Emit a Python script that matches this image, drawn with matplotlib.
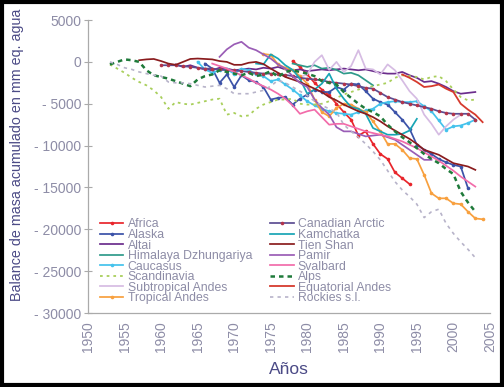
import numpy as np
import matplotlib
matplotlib.use("Agg")
import matplotlib.pyplot as plt
from matplotlib.patches import Rectangle

plt.rcParams['font.family'] = ['Liberation Sans', 'DejaVu Sans']

# ---------------- data (start year + cumulative balance, mm w.e.) ----------------
africa_start = 1978
africa = [100, -600, -1500, -2500, -3300, -4000, -5000, -6000, -6900, -8800, -8300,
          -9800, -11000, -11600, -13200, -13900, -14600]

alaska_start = 1966
alaska = [-200, -800, -2500, -1500, -3000, -1600, -2200, -2400, -3000, -4500, -4300,
          -4200, -5100, -4400, -3900, -3300, -3600, -3600, -3000, -3300, -2600, -2700,
          -3500, -4400, -4800, -5100, -6000, -6900, -8000, -9900, -10500, -11000,
          -11600, -12000, -12300, -12500, -15100]

altai_start = 1962
altai = [-300, -600, -400, -700, -900, -1000, -700, -800, -1000, -900, -800, -900,
         -700, -800, -600, -900, -1000, -900, -1100, -1000, -900, -1000, -900, -800,
         -900, -1000, -900, -1100, -1300, -1400, -1400, -1200, -1600, -1900, -2400,
         -2300, -2600, -3000, -3500, -3800, -3700, -3600]

himalaya_start = 1978
himalaya = [-200, -400, -600, -400, -800, -700, -950, -1400, -1300, -1600, -2200, -2800]

caucasus_start = 1965
caucasus = [0, -900, -1300, -1000, -900, -1400, -800, -1000, -1500, -1700,
            -2300, -2100, -2700, -3300, -4000, -4700, -5200, -5600, -5900, -6100,
            -6200, -6300, -6000, -5800, -5600, -5000, -4800, -4700, -4800, -4800,
            -4700, -5300, -5900, -7000, -8100, -7700, -7600, -7300, -6900]

scandinavia_start = 1953
scandinavia = [-300, -800, -1300, -1900, -2400, -2800, -3400, -4200, -5600, -4800,
               -5000, -5100, -4900, -4700, -4500, -4400, -6300, -6100, -6500, -6400,
               -5600, -5100, -4800, -4500, -4500, -4400, -5000, -5100, -5100, -5000,
               -4700, -4300, -3900, -3600, -3300, -3100, -2900, -2700, -2500, -1900,
               -1600, -1700, -1800, -2100, -1800, -1700, -2300, -3300, -4200, -4600,
               -4500]

subtrop_start = 1979
subtropical_andes = [-1800, -1500, 0, 800, -950, 0, -1200, -500, 1400, -800, -900,
                     -1500, -300, -1000, -2200, -3500, -4400, -6300, -7400, -8700,
                     -7700, -6900, -6300]

trop_start = 1974
tropical_andes = [950, 830, -300, -700, -950, -1700, -2600, -4500, -6000, -6500, -5500,
                  -5000, -5100, -5600, -6000, -7100, -8300, -9800, -9800, -10500,
                  -11500, -11600, -13500, -15700, -16300, -16300, -16900, -17000,
                  -17900, -18700, -18800]

canarctic_start = 1960
canadian_arctic = [-400, -400, -400, -500, -600, -700, -800, -800, -900, -1000,
                   -1000, -1100, -1200, -1300, -1400, -1400, -1500, -1550, -1700, -1900,
                   -2000, -2100, -2200, -2400, -2500, -2600, -2700, -2900, -3100, -3200,
                   -3700, -4200, -4500, -4800, -5000, -5200, -5400, -5600, -5900, -6100,
                   -6200, -6200, -6200, -6900]

kamchatka_start = 1973
kamchatka = [-200, -300, 900, 400, -400, -950, -2000, -3800, -3300, -2600, -1400,
             -3200, -4400, -5400, -5600, -6200, -7900, -8300, -8700, -8700, -8600,
             -8200, -6800]

tienshan_start = 1957
tien_shan = [200, 300, 350, 100, -200, -350, 0, 350, 400, 350,
             300, 100, 0, -350, -350, -100, 0, -250, -800, -1300,
             -1800, -2100, -2400, -2800, -3200, -3600, -4200, -4600, -5100, -5500,
             -5900, -6200, -6600, -7100, -7700, -8200, -8700, -9200, -9800, -10500,
             -10800, -11100, -11600, -12100, -12300, -12500, -12900]

pamir_start = 1968
pamir = [600, 1500, 2100, 2400, 1700, 1400, 900, 400, -300, -800, -1700, -2500,
         -3000, -4500, -5500, -6300, -7800, -8300, -8300, -8600, -8900, -8800,
         -8700, -9000, -9300, -9900, -10500, -11100, -11700, -11700]

svalbard_start = 1967
svalbard = [-200, -500, -800, -1200, -1600, -2000, -2500, -2900, -3300, -3800,
            -4400, -5200, -6200, -5900, -5700, -6600, -7500, -7400, -7400, -7700,
            -8000, -8300, -8500, -8700, -8900, -9200, -9500, -9900, -10300, -10800,
            -11300, -11800, -12400, -13000, -13700, -14300, -14900]

alps_start = 1953
alps = [-300, 0, 300, 200, 0, -1000, -1600, -1800, -2000, -2300,
        -2600, -2900, -2100, -1700, -1500, -1000, -1200, -1400, -1600, -1300,
        -1700, -1500, -1100, -1800, -1200, -1000, -1200, -1400, -1700, -2300,
        -2500, -2700, -3600, -4300, -5000, -5600, -6000, -6500, -7500, -8300,
        -9000, -9600, -10300, -11000, -11600, -12100, -12800, -13400, -15500, -16800,
        -17900]

eqandes_start = 1993
equatorial_andes = [-1500, -1900, -2400, -3000, -2900, -2700, -3200, -3600, -5000,
                    -5700, -6300, -7200]

rockies_start = 1953
rockies = [0, -300, -700, -900, -1200, -1400, -1600, -1700, -2400, -2500,
           -2500, -2600, -2800, -3000, -2900, -2800, -3200, -3800, -3800, -3800,
           -3600, -3400, -2900, -2200, -2500, -3000, -3500, -4000, -4700, -5200,
           -5600, -6000, -7500, -8300, -9000, -9800, -10700, -11700, -13000, -14300,
           -15300, -16100, -17000, -18600, -17900, -17600, -19300, -20500, -21500,
           -22400, -23400]

x_ticks = [1950, 1955, 1960, 1965, 1970, 1975, 1980, 1985, 1990, 1995, 2000, 2005]
y_ticks = [5000, 0, -5000, -10000, -15000, -20000, -25000, -30000]
y_tick_labels = ["5000", "0", "- 5000", "- 10000", "- 15000", "- 20000", "- 25000", "- 30000"]

# ---------------- styles ----------------
series = [
    # label, start, values, color, linestyle, marker, lw, marker face
    ("Africa", africa_start, africa, "#e8252b", "-", "o", 1.25, "#e8252b"),
    ("Alaska", alaska_start, alaska, "#3b52a8", "-", "o", 1.25, "#3b52a8"),
    ("Altai", altai_start, altai, "#6b2d8c", "-", None, 1.25, None),
    ("Himalaya Dzhungariya", himalaya_start, himalaya, "#2f9a8a", "-", None, 1.25, None),
    ("Caucasus", caucasus_start, caucasus, "#44c2ec", "-", "o", 1.25, "#44c2ec"),
    ("Scandinavia", scandinavia_start, scandinavia, "#a9cf5c", (0, (1.5, 2.2)), None, 1.3, None),
    ("Subtropical Andes", subtrop_start, subtropical_andes, "#d6bce3", "-", None, 1.25, None),
    ("Tropical Andes", trop_start, tropical_andes, "#f8a03e", "-", "o", 1.25, "#f8a03e"),
    ("Canadian Arctic", canarctic_start, canadian_arctic, "#5c4d92", "-", "o", 1.25, "#b2344a"),
    ("Kamchatka", kamchatka_start, kamchatka, "#18a5b5", "-", None, 1.25, None),
    ("Tien Shan", tienshan_start, tien_shan, "#8a1c1e", "-", None, 1.25, None),
    ("Pamir", pamir_start, pamir, "#9a5db6", "-", None, 1.25, None),
    ("Svalbard", svalbard_start, svalbard, "#f26caa", "-", None, 1.25, None),
    ("Alps", alps_start, alps, "#1f7a3a", (0, (1.8, 1.6)), None, 1.8, None),
    ("Equatorial Andes", eqandes_start, equatorial_andes, "#d63a2e", "-", None, 1.3, None),
    ("Rockies s.l.", rockies_start, rockies, "#b7b3c9", (0, (2, 2.5)), None, 1.2, None),
]

fig = plt.figure(figsize=(5.04, 3.87), dpi=100)
ax = fig.add_axes([0.1746, 0.1912, 0.7975, 0.757])

handles = []
for label, start, vals, color, ls, marker, lw, mfc in series:
    yrs = np.arange(start, start + len(vals))
    h, = ax.plot(yrs, vals, color=color, linestyle=ls, lw=lw, marker=marker,
                 markersize=2.6, markerfacecolor=mfc, markeredgecolor=mfc,
                 markeredgewidth=0, label=label)
    handles.append(h)

ax.set_xlim(1950, 2005)
ax.set_ylim(-30000, 5000)
ax.set_xticks(x_ticks)
ax.set_xticklabels([str(t) for t in x_ticks], rotation=90)
ax.set_yticks(y_ticks)
ax.set_yticklabels(y_tick_labels)

tick_col = "#8d8ca6"
ax.tick_params(axis='y', direction='inout', length=6, width=0.8, color='#aaaaaa',
               labelsize=10, labelcolor=tick_col, pad=2)
ax.tick_params(axis='x', length=0, labelsize=10, labelcolor=tick_col, pad=6)
for s in ['top', 'right']:
    ax.spines[s].set_visible(False)
for s in ['left', 'bottom']:
    ax.spines[s].set_color('#aaaaaa')
    ax.spines[s].set_linewidth(0.9)

lab_col = "#4b4a86"
ax.set_ylabel("Balance de masa acumulado en mm eq. agua", color=lab_col,
              fontsize=10.3)
ax.yaxis.set_label_coords(-0.16, 0.54)
ax.set_xlabel("Años", color=lab_col, fontsize=12.5, labelpad=7)

leg = ax.legend(handles=handles, ncol=2, loc='lower left', bbox_to_anchor=(0.03, 0.03),
                frameon=False, fontsize=8.8, labelspacing=-0.12, handlelength=1.9,
                handletextpad=0.35, columnspacing=1.5, borderpad=0, borderaxespad=0)
for t in leg.get_texts():
    t.set_color("#8d8ca6")

fig.patches.append(Rectangle((0.004, 0.005), 0.992, 0.99, transform=fig.transFigure,
                             fill=False, lw=3, ec='black'))

fig.savefig("out.png", dpi=100)
